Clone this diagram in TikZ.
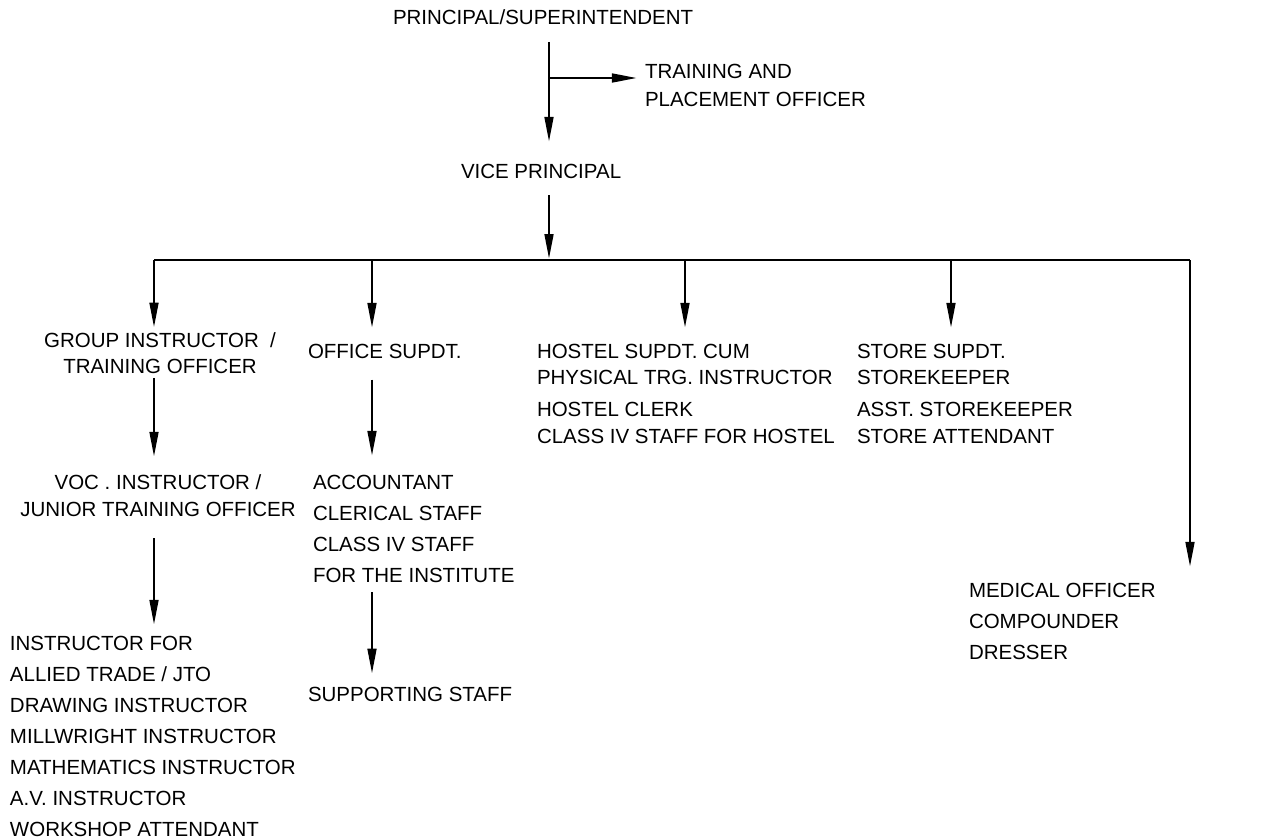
\documentclass[tikz,border=0pt]{standalone}
\usepackage{fontspec}
\setmainfont{Liberation Sans}
\usepackage{tikz}
\usetikzlibrary{arrows.meta}

\tikzset{
	lbl/.style={inner sep=0pt, outer sep=0pt, align=left, font=\fontsize{11.66}{#1}\selectfont},
	lbl/.default=14.74pt,
	arr/.style={line width=0.65pt, -{Triangle[length=13.8pt, width=5.2pt]}},
	wire/.style={line width=0.65pt}
}

\begin{document}
\begin{tikzpicture}[x=0.02cm, y=-0.02cm]
					\useasboundingbox (0,0) rectangle (1264,839);
					% Nodes:
					\node[lbl, anchor=north west](ps) at (393, 10){PRINCIPAL/SUPERINTENDENT};
					\node[lbl=15.9pt, anchor=north west](tpo) at (645, 64){TRAINING AND\\PLACEMENT OFFICER};
					\node[lbl, anchor=north west](vp) at (461, 164){VICE PRINCIPAL};
					\node[lbl, align=center, anchor=north](gi) at (160, 333){GROUP INSTRUCTOR \ /\\TRAINING OFFICER};
					\node[lbl, anchor=north west](os) at (308, 344){OFFICE SUPDT.};
					\node[lbl, anchor=north west](hs1) at (537, 344){HOSTEL SUPDT. CUM\\PHYSICAL TRG. INSTRUCTOR};
					\node[lbl=15.3pt, anchor=north west](hs2) at (537, 402){HOSTEL CLERK\\CLASS IV STAFF FOR HOSTEL};
					\node[lbl, anchor=north west](st1) at (857, 344){STORE SUPDT.\\STOREKEEPER};
					\node[lbl=15.3pt, anchor=north west](st2) at (857, 402){ASST. STOREKEEPER\\STORE ATTENDANT};
					\node[lbl=15.3pt, align=center, anchor=north](voc) at (158, 475){VOC . INSTRUCTOR /\\JUNIOR TRAINING OFFICER};
					\node[lbl=17.6pt, anchor=north west](acc) at (313, 475){ACCOUNTANT\\CLERICAL STAFF\\CLASS IV STAFF\\FOR THE INSTITUTE};
					\node[lbl, anchor=north west](ss) at (308, 687){SUPPORTING STAFF};
					\node[lbl=17.7pt, anchor=north west](ins) at (10, 636){INSTRUCTOR FOR\\ALLIED TRADE / JTO\\DRAWING INSTRUCTOR\\MILLWRIGHT INSTRUCTOR\\MATHEMATICS INSTRUCTOR\\A.V. INSTRUCTOR\\WORKSHOP ATTENDANT};
					\node[lbl=17.6pt, anchor=north west](med) at (969, 583){MEDICAL OFFICER\\COMPOUNDER\\DRESSER};
					% Junctions:
					\coordinate (trunk) at (549, 0);
					\coordinate (tj) at (549, 78);
					\coordinate (bus) at (549, 260);
					\coordinate (d1) at (154, 260);
					\coordinate (d2) at (372, 260);
					\coordinate (d3) at (685, 260);
					\coordinate (d4) at (951, 260);
					\coordinate (d5) at (1190, 260);
					% Wires:
					\draw[arr, shorten <=9.6pt, shorten >=13pt] (ps.south -| trunk) -- (vp.north -| trunk);
					\draw[arr, shorten >=5pt] (tj) -- (tj -| tpo.west);
					\draw[arr, shorten <=9.6pt, shorten >=1pt] (vp.south -| trunk) -- (bus);
					\draw[wire] (d1) -- (d5);
					\draw[arr, shorten >=3.5pt] (d1) -- (d1 |- gi.north);
					\draw[arr, shorten >=9.6pt] (d2) -- (d2 |- os.north);
					\draw[arr, shorten >=9.6pt] (d3) -- (d3 |- hs1.north);
					\draw[arr, shorten >=9.6pt] (d4) -- (d4 |- st1.north);
					\draw[arr, shorten >=9.6pt] (d5) -- (d5 |- med.north);
					\draw[arr, shorten <=2.3pt, shorten >=10.8pt] (gi.south -| d1) -- (voc.north -| d1);
					\draw[arr, shorten <=12pt, shorten >=11.3pt] (os.south -| d2) -- (acc.north -| d2);
					\draw[arr, shorten <=12pt, shorten >=6.8pt] (voc.south -| d1) -- (ins.north -| d1);
					\draw[arr, shorten <=5.7pt, shorten >=8pt] (acc.south -| d2) -- (ss.north -| d2);
				\end{tikzpicture}
\end{document}
